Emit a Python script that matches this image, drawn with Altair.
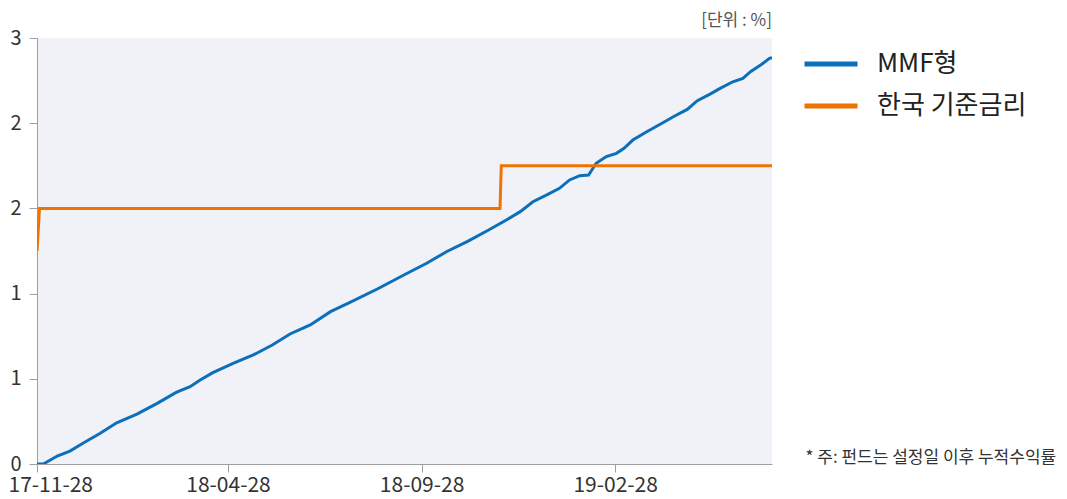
import altair as alt
import pandas as pd

# ---- data ----
mmf_dates = [
    "2017-11-28", "2017-12-03", "2017-12-14", "2017-12-24", "2018-01-04",
    "2018-01-17", "2018-01-30", "2018-02-15", "2018-03-03", "2018-03-18",
    "2018-03-29", "2018-04-06", "2018-04-16", "2018-05-02", "2018-05-18",
    "2018-06-02", "2018-06-16", "2018-07-02", "2018-07-18", "2018-08-02",
    "2018-08-24", "2018-09-14", "2018-10-02", "2018-10-18", "2018-11-03",
    "2018-11-20", "2018-12-04", "2018-12-15", "2018-12-25", "2019-01-05",
    "2019-01-15", "2019-01-23", "2019-01-31", "2019-02-07", "2019-02-13",
    "2019-02-21", "2019-03-01", "2019-03-07", "2019-03-14", "2019-03-25",
    "2019-04-05", "2019-04-15", "2019-04-26", "2019-05-04", "2019-05-14",
    "2019-05-22", "2019-06-01", "2019-06-09", "2019-06-15", "2019-06-23",
    "2019-06-30", "2019-07-02",
]
mmf_values = [
    0.000, 0.000, 0.047, 0.076, 0.125,
    0.180, 0.242, 0.293, 0.356, 0.420,
    0.454, 0.493, 0.536, 0.591, 0.640,
    0.698, 0.763, 0.816, 0.894, 0.947,
    1.027, 1.109, 1.178, 1.247, 1.305,
    1.373, 1.432, 1.481, 1.539, 1.579,
    1.618, 1.667, 1.692, 1.696, 1.765,
    1.804, 1.823, 1.853, 1.901, 1.950,
    1.995, 2.038, 2.081, 2.132, 2.171,
    2.204, 2.243, 2.263, 2.302, 2.341,
    2.381, 2.385,
]
rate_dates = ["2017-11-28", "2017-11-30", "2018-11-29", "2018-11-30", "2019-07-02"]
rate_values = [1.25, 1.50, 1.50, 1.75, 1.75]

series_names = ["MMF형", "한국 기준금리"]
series_colors = ["#0b6fba", "#ef7300"]
y_ticks = [0, 0.5, 1.0, 1.5, 2.0, 2.5]
x_tick_dates = ["2017-11-28", "2018-04-28", "2018-09-28", "2019-02-28"]
x_domain = ["2017-11-28", "2019-07-02"]

unit_text = "[단위 : %]"
note_text = "* 주: 펀드는 설정일 이후 누적수익률"

FONT = "Noto Sans CJK KR"


def dt(s):
    y, m, d = (int(p) for p in s.split("-"))
    return alt.DateTime(year=y, month=m, date=d, utc=True)


df = pd.concat([
    pd.DataFrame({"date": mmf_dates, "value": mmf_values, "series": series_names[0]}),
    pd.DataFrame({"date": rate_dates, "value": rate_values, "series": series_names[1]}),
])

chart = (
    alt.Chart(df)
    .mark_line(strokeWidth=3, clip=True)
    .encode(
        x=alt.X(
            "date:T",
            scale=alt.Scale(type="utc", domain=[dt(d) for d in x_domain]),
            axis=alt.Axis(
                values=[dt(d) for d in x_tick_dates],
                labelExpr="utcFormat(datum.value, '%y-%m-%d')",
                labelFontSize=21,
                labelColor="#333333",
                labelPadding=2,
                tickSize=8,
                tickColor="#9e9e9e",
                domainColor="#9e9e9e",
                grid=False,
                title=note_text,
                titleX=768,
                titleY=-7,
                titleAlign="left",
                titleBaseline="middle",
                titleFontSize=17,
                titleFontWeight="normal",
                titleColor="#333333",
                labelFlush=True,
                labelFlushOffset=29,
                labelOverlap=False,
            ),
        ),
        y=alt.Y(
            "value:Q",
            scale=alt.Scale(domain=[0, 2.5], nice=False),
            axis=alt.Axis(
                values=y_ticks,
                format=".0f",
                labelFontSize=20,
                labelColor="#333333",
                labelPadding=8,
                tickSize=8,
                tickColor="#9e9e9e",
                domainColor="#9e9e9e",
                grid=False,
                title=None,
            ),
        ),
        color=alt.Color(
            "series:N",
            scale=alt.Scale(domain=series_names, range=series_colors),
            legend=alt.Legend(
                title=None,
                orient="none",
                legendX=765,
                legendY=-3,
                symbolType="stroke",
                symbolSize=2809,
                symbolStrokeWidth=5,
                labelFontSize=26,
                labelColor="#222222",
                labelOffset=17,
                rowPadding=-5,
                labelLimit=300,
            ),
        ),
    )
    .properties(
        width=735,
        height=426,
        autosize=alt.AutoSizeParams(type="none"),
        padding={"left": 29, "top": 30, "right": 287, "bottom": 35},
        title=alt.TitleParams(
            unit_text,
            anchor="end",
            frame="group",
            fontSize=17,
            fontWeight="normal",
            color="#555555",
            offset=-2,
        ),
    )
    .configure(font=FONT)
    .configure_view(fill="#f0f2f8", stroke=None)
)

chart.save("out.html", embed_options={"renderer": "svg", "actions": False})
